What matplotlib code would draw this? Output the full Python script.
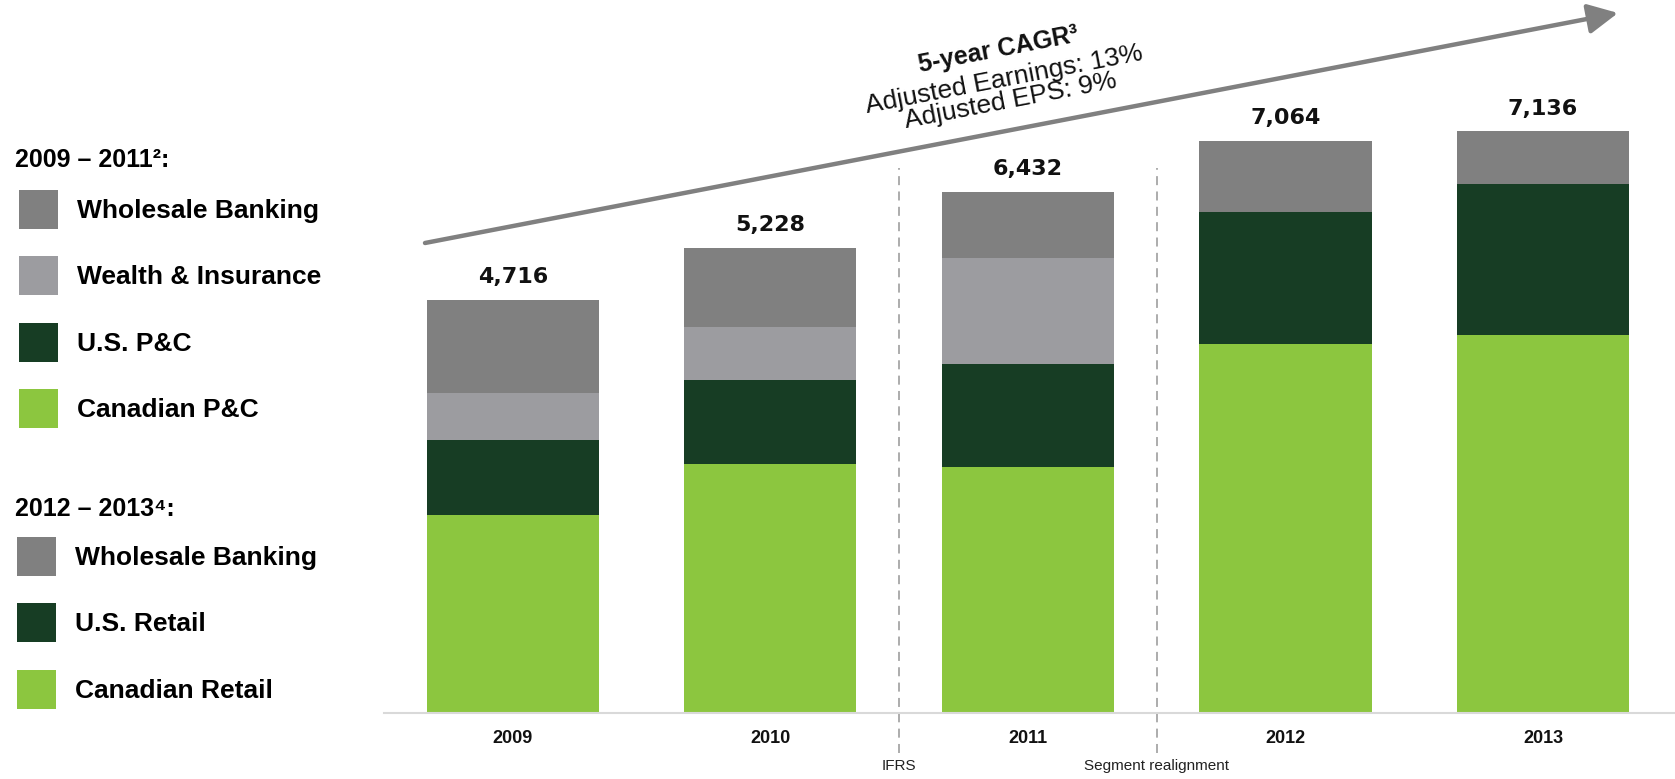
import numpy as np
import matplotlib
matplotlib.use("Agg")
import matplotlib.pyplot as plt
from matplotlib.patches import Patch, ArrowStyle

plt.rcParams['font.family'] = ['Liberation Sans', 'DejaVu Sans']

# adjusted earnings ($MM)
years = ["2009", "2010", "2011", "2012", "2013"]
totals = [4716, 5228, 6432, 7064, 7136]

# segment earnings
canadian = [2450, 3080, 3040, 4560, 4670]
us = [920, 1030, 1270, 1620, 1860]
wealth = [580, 650, 1310, 0, 0]
wholesale = [1150, 980, 810, 880, 650]

labels_0911 = ["Wholesale Banking", "Wealth & Insurance", "U.S. P&C", "Canadian P&C"]
labels_1213 = ["Wholesale Banking", "U.S. Retail", "Canadian Retail"]
breaks = [(1.5, "IFRS"), (2.5, "Segment realignment")]
cagr_lines = ["5-year CAGR³", "Adjusted Earnings: 13%", "Adjusted EPS: 9%"]

c_can = "#8cc63f"
c_us = "#173d24"
c_wealth = "#9c9ca0"
c_whole = "#808080"

W, H = 1675, 779
fig = plt.figure(figsize=(W / 100, H / 100), dpi=100)
ax = fig.add_axes([384 / W, 66 / H, (W - 384) / W, 713 / H])

x = np.arange(len(years))
bw = 0.668
can = np.array(canadian)
usa = np.array(us)
wea = np.array(wealth)
who = np.array(wholesale)

ax.bar(x, can, bw, color=c_can, lw=0)
ax.bar(x, usa, bw, bottom=can, color=c_us, lw=0)
ax.bar(x, wea, bw, bottom=can + usa, color=c_wealth, lw=0)
ax.bar(x, who, bw, bottom=can + usa + wea, color=c_whole, lw=0)

tops = can + usa + wea + who
for xi, top, t in zip(x, tops, totals):
    ax.annotate(f"{t:,}", (xi, top), xytext=(0, 16.5), textcoords="offset points",
                ha="center", va="center", fontsize=16, fontweight="bold",
                family="DejaVu Sans", color="#111111")

ax.set_xlim(-0.4996, 4.512)
ax.set_ylim(0, 713 / 0.081)
for s in ["top", "left", "right"]:
    ax.spines[s].set_visible(False)
ax.spines["bottom"].set_color("#d9d9d9")
ax.spines["bottom"].set_linewidth(1.5)
ax.set_yticks([])
ax.set_xticks(x)
ax.set_xticklabels(years, fontsize=13, fontweight="bold", color="#111111")
ax.tick_params(axis="x", length=0, pad=12.5)

for xv, note in breaks:
    ax.axvline(xv, ymin=(713 - 753) / 713, ymax=(713 - 168) / 713, clip_on=False,
               color="#a6a6a6", lw=1.3, ls=(0, (5, 3.5)))
    ax.text(xv, (713 - 766) / 713, note, transform=ax.get_xaxis_transform(),
            ha="center", va="center", fontsize=11, color="#222222")

# growth arrow
p0 = (425, H - 243)
p1 = (1618, H - 13)
ax.annotate("", xy=p1, xycoords="figure pixels", xytext=p0, textcoords="figure pixels",
            arrowprops=dict(arrowstyle=ArrowStyle("-|>", head_length=1.3, head_width=0.65),
                            mutation_scale=14, color="#808080", lw=3.2,
                            shrinkA=0, shrinkB=0))
ang = np.degrees(np.arctan2(p1[1] - p0[1], p1[0] - p0[0]))
baselines = [(1000, 57), (1005, 86), (1012, 107.5)]
for (cx, cy), line, i in zip(baselines, cagr_lines, range(3)):
    fig.text(cx / W, 1 - cy / H, line, rotation=ang, rotation_mode="anchor",
             ha="center", va="baseline", fontsize=18 if i == 0 else 19,
             fontweight="bold" if i == 0 else "normal", color="#111111")

# legends
fig.text(15 / W, 1 - 167 / H, "2009 – 2011²:", fontsize=18, fontweight="bold", va="baseline")
fig.text(15 / W, 1 - 516 / H, "2012 – 2013⁴:", fontsize=18, fontweight="bold", va="baseline")

leg_kw = dict(loc="upper left", frameon=False, prop=dict(size=19, weight="bold"),
              handlelength=1.478, handleheight=1.897, handletextpad=0.72,
              labelspacing=1.035, borderpad=0, borderaxespad=0)
h1 = [Patch(color=c, lw=0) for c in [c_whole, c_wealth, c_us, c_can]]
fig.legend(h1, labels_0911, bbox_to_anchor=(19 / W, 1 - 190 / H), **leg_kw)
h2 = [Patch(color=c, lw=0) for c in [c_whole, c_us, c_can]]
fig.legend(h2, labels_1213, bbox_to_anchor=(17 / W, 1 - 537 / H), **leg_kw)

fig.savefig("out.png", dpi=100)
